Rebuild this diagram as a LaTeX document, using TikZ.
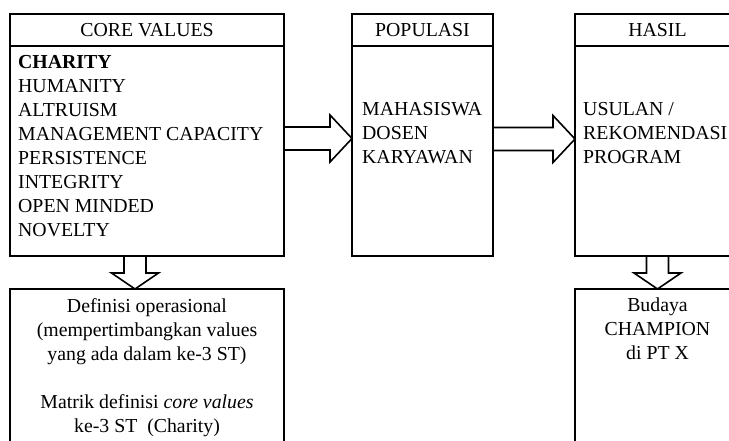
\documentclass[tikz,border=0pt]{standalone}
\usepackage{fontspec}
\setmainfont{Liberation Serif}
\usepackage{tikz}
\usetikzlibrary{positioning, calc}

\begin{document}
\begin{tikzpicture}[x=1pt, y=-1pt,
    font=\fontsize{19.8}{24}\selectfont,
    headbox/.style={draw, line width=2pt, outer sep=0pt, minimum height=32pt, inner sep=0pt},
    bodybox/.style={draw, line width=2pt, outer sep=0pt, minimum height=210pt},
    lowbox/.style={draw, line width=2pt, outer sep=0pt, minimum height=200pt},
    blockarrow/.style={draw, fill=white, line width=1.6pt, line join=miter}]
            \useasboundingbox (0,0) rectangle (729,441);
            % top row
            \node[headbox, minimum width=274pt] (corehead) at (147,30) {CORE VALUES};
            \node[bodybox, minimum width=274pt] (corebody) [below = 0pt of corehead] {};
            \node[headbox, minimum width=141pt] (pophead) at (422.5,30) {POPULASI};
            \node[bodybox, minimum width=141pt] (popbody) [below = 0pt of pophead] {};
            \node[headbox, minimum width=165pt] (hasilhead) at (657.5,30) {HASIL};
            \node[bodybox, minimum width=165pt] (hasilbody) [below = 0pt of hasilhead] {};
            \node[anchor=west, align=left, inner sep=0pt] (coretext) at ([xshift=8pt, yshift=4.5pt]corebody.west) {\textbf{CHARITY}\\HUMANITY\\ALTRUISM\\MANAGEMENT CAPACITY\\PERSISTENCE\\INTEGRITY\\OPEN MINDED\\NOVELTY};
            \node[anchor=west, align=left, inner sep=0pt] (poptext) at ([xshift=10pt, yshift=18pt]popbody.west) {MAHASISWA\\DOSEN\\KARYAWAN};
            \node[anchor=west, align=left, inner sep=0pt] (hasiltext) at ([xshift=8pt, yshift=18pt]hasilbody.west) {USULAN /\\REKOMENDASI\\PROGRAM};

            % bottom row
            \node[lowbox, minimum width=274pt] (defbox) [below = 33pt of corebody] {};
            \node[lowbox, minimum width=165pt] (budayabox) [below = 33pt of hasilbody] {};
            \node[anchor=north, align=center, inner sep=0pt] (deftext) at ([yshift=-9pt]defbox.north) {Definisi operasional\\(mempertimbangkan values\\yang ada dalam ke-3 ST)\\[24pt]Matrik definisi \textit{core values}\\ke-3 ST\ \ (Charity)};
            \node[anchor=north, align=center, inner sep=0pt] (budayatext) at ([yshift=-9pt]budayabox.north) {Budaya\\CHAMPION\\di PT X};

            % block arrows
            \draw[blockarrow] let \p1=($(corebody.east)+(0,-12.5)$), \p2=($(popbody.west)+(0,-12.5)$) in
                (\x1,\y1+11.5pt) -- (\x2-22pt,\y1+11.5pt) -- (\x2-22pt,\y1+23.5pt) -- (\x2,\y1)
                -- (\x2-22pt,\y1-23.5pt) -- (\x2-22pt,\y1-11.5pt) -- (\x1,\y1-11.5pt) -- cycle;
            \draw[blockarrow] let \p1=($(popbody.east)+(0,-12)$), \p2=($(hasilbody.west)+(0,-12)$) in
                (\x1,\y1+11.5pt) -- (\x2-22pt,\y1+11.5pt) -- (\x2-22pt,\y1+23.5pt) -- (\x2,\y1)
                -- (\x2-22pt,\y1-23.5pt) -- (\x2-22pt,\y1-11.5pt) -- (\x1,\y1-11.5pt) -- cycle;
            \draw[blockarrow] let \p1=($(corebody.south)+(-12,0)$), \p2=($(defbox.north)+(-12,0)$) in
                (\x1-11pt,\y1) -- (\x1-11pt,\y2+16pt) -- (\x1-23.5pt,\y2+16pt) -- (\x1,\y2)
                -- (\x1+23.5pt,\y2+16pt) -- (\x1+11pt,\y2+16pt) -- (\x1+11pt,\y1) -- cycle;
            \draw[blockarrow] let \p1=(hasilbody.south), \p2=(budayabox.north) in
                (\x1-11pt,\y1) -- (\x1-11pt,\y2+16pt) -- (\x1-23.5pt,\y2+16pt) -- (\x1,\y2)
                -- (\x1+23.5pt,\y2+16pt) -- (\x1+11pt,\y2+16pt) -- (\x1+11pt,\y1) -- cycle;
\end{tikzpicture}
\end{document}
